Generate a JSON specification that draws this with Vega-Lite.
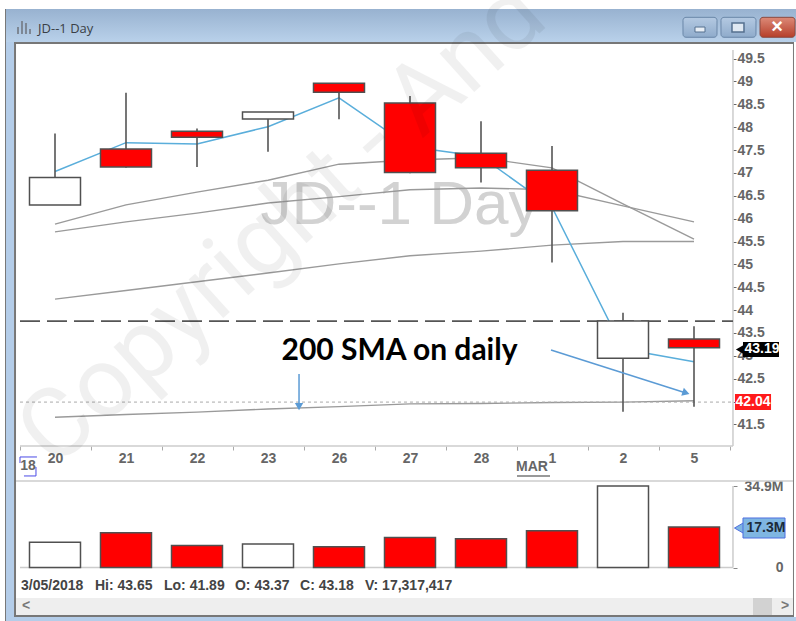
{"$schema":"https://vega.github.io/schema/vega-lite/v6.json","width":796,"height":621,"padding":0,"autosize":{"type":"none"},"background":"#ffffff","config":{"view":{"stroke":null},"font":"Liberation Sans"},
"encoding":{"x":{"field":"x","type":"quantitative","title":null,"scale":{"domain":[-0.7746,10.4366],"nice":false,"zero":false,"padding":0},"axis":{"orient":"bottom","offset":-175,"domain":false,"grid":false,"title":null,"values":[0,1,2,3,4,5,6,7,8,9,-0.493,0.507,1.507,2.507,3.507,4.507,5.507,6.507,7.507,8.507,9.507],"labelExpr":"datum.value % 1 === 0 ? ['20','21','22','23','26','27','28','1','2','5'][datum.value] : ''","tickOpacity":{"condition":{"test":"datum.value % 1 === 0","value":0},"value":1},"tickSize":4,"tickColor":"#aaaaaa","labelFont":"Liberation Sans","labelFontSize":14,"labelFontWeight":"bold","labelColor":"#666666","labelPadding":1,"labelOverlap":false,"labelFlush":false,"labelBound":false}}},
"resolve":{"scale":{"y":"independent"},"axis":{"y":"independent"}},
"layer":[
{"encoding":{"y":{"field":"y","type":"quantitative","title":null,"scale":{"domain":[37.2049,50.7787],"nice":false,"zero":false},"axis":{"orient":"right","offset":-63,"domain":false,"grid":false,"title":null,"values":[41.5,42,42.5,43,43.5,44,44.5,45,45.5,46,46.5,47,47.5,48,48.5,49,49.5],"labelExpr":"datum.value === 42 ? '' : format(datum.value, '.1~f')","tickSize":3,"tickColor":"#666666","labelPadding":1,"labelFont":"Liberation Sans","labelFontSize":14,"labelFontWeight":"bold","labelColor":"#666666","labelOverlap":false,"labelFlush":false,"labelBound":false}}},
"layer":[
{"data":{"values":[{"part":"titlebar","x":-0.69,"x2":10.437,"y":50.582,"y2":49.861}]},"mark":{"type":"rect","color":{"x1":0,"y1":0,"x2":0,"y2":1,"gradient":"linear","stops":[{"offset":0,"color":"#98b2d0"},{"offset":1,"color":"#b9d1ea"}]}},"encoding":{"x2":{"field":"x2"},"y2":{"field":"y2"}}},
{"data":{"values":[{"part":"left","x":-0.69,"x2":-0.577,"y":49.861,"y2":37.205},{"part":"bottom","x":-0.69,"x2":10.437,"y":37.293,"y2":37.205}]},"mark":{"type":"rect","color":"#b4cde9"},"encoding":{"x2":{"field":"x2"},"y2":{"field":"y2"}}},
{"data":{"values":[{"part":"outer left","x":-0.704,"x2":-0.69,"y":50.582,"y2":37.205},{"part":"client top","x":-0.577,"x2":10.408,"y":49.861,"y2":49.817},{"part":"client left","x":-0.577,"x2":-0.549,"y":49.861,"y2":37.293},{"part":"client bottom","x":-0.577,"x2":10.408,"y":37.336,"y2":37.293},{"part":"client right","x":10.394,"x2":10.408,"y":49.861,"y2":37.293}]},"mark":{"type":"rect","color":"#777777"},"encoding":{"x2":{"field":"x2"},"y2":{"field":"y2"}}},
{"data":{"values":[{"part":"scrollbar","x":-0.549,"x2":10.394,"y":37.708,"y2":37.336}]},"mark":{"type":"rect","color":"#eeeeee"},"encoding":{"x2":{"field":"x2"},"y2":{"field":"y2"}}},
{"data":{"values":[{"part":"thumb","x":9.831,"x2":10.099,"y":37.708,"y2":37.336}]},"mark":{"type":"rect","color":"#d2d2d2"},"encoding":{"x2":{"field":"x2"},"y2":{"field":"y2"}}},
{"data":{"values":[{"part":"minimize","x":8.845,"x2":9.324,"y":50.4,"y2":49.964},{"part":"restore","x":9.38,"x2":9.873,"y":50.4,"y2":49.964}]},"mark":{"type":"rect","cornerRadius":3,"stroke":"#6a87a8","strokeWidth":1,"color":{"x1":0,"y1":0,"x2":0,"y2":1,"gradient":"linear","stops":[{"offset":0,"color":"#b4c9e2"},{"offset":1,"color":"#8fabcb"}]}},"encoding":{"x2":{"field":"x2"},"y2":{"field":"y2"}}},
{"data":{"values":[{"part":"close","x":9.93,"x2":10.423,"y":50.4,"y2":49.964}]},"mark":{"type":"rect","cornerRadius":3,"stroke":"#8a4a40","strokeWidth":1,"color":{"x1":0,"y1":0,"x2":0,"y2":1,"gradient":"linear","stops":[{"offset":0,"color":"#dc8a78"},{"offset":1,"color":"#b63f2a"}]}},"encoding":{"x2":{"field":"x2"},"y2":{"field":"y2"}}},
{"data":{"values":[{"part":"minimize glyph","x":9.014,"x2":9.155,"y":50.188,"y2":50.079}]},"mark":{"type":"rect","color":"#e8eef5","stroke":"#55708f","strokeWidth":1},"encoding":{"x2":{"field":"x2"},"y2":{"field":"y2"}}},
{"data":{"values":[{"part":"restore glyph","x":9.535,"x2":9.704,"y":50.276,"y2":50.079}]},"mark":{"type":"rect","color":"#dfe8f2","stroke":"#55708f","strokeWidth":1.5},"encoding":{"x2":{"field":"x2"},"y2":{"field":"y2"}}},
{"data":{"values":[{"part":"icon","x":-0.535,"x2":-0.507,"y":50.188,"y2":50.036},{"part":"icon","x":-0.479,"x2":-0.451,"y":50.32,"y2":50.036},{"part":"icon","x":-0.423,"x2":-0.394,"y":50.276,"y2":50.036},{"part":"icon","x":-0.366,"x2":-0.338,"y":50.145,"y2":50.036}]},"mark":{"type":"rect","color":"#7d8794"},"encoding":{"x2":{"field":"x2"},"y2":{"field":"y2"}}},
{"data":{"values":[{"label":"JD--1 Day","x":-0.239,"y":50.145}]},"mark":{"type":"text","align":"left","baseline":"middle","font":"Open Sans","fontSize":13,"color":"#3a3f46"},"encoding":{"text":{"field":"label"}}},
{"data":{"values":[{"label":"×","x":10.169,"y":50.188}]},"mark":{"type":"text","align":"center","baseline":"middle","font":"Liberation Sans","fontWeight":"bold","fontSize":20,"color":"#ffffff"},"encoding":{"text":{"field":"label"}}},
{"data":{"values":[{"label":"<","x":-0.408,"y":37.53},{"label":">","x":10.282,"y":37.53}]},"mark":{"type":"text","align":"center","baseline":"middle","font":"Liberation Sans","fontWeight":"bold","fontSize":14,"color":"#777777"},"encoding":{"text":{"field":"label"}}},
{"data":{"values":[{"label":"JD--1 Day","x":4.859,"y":46.298}]},"mark":{"type":"text","align":"center","baseline":"middle","font":"Liberation Sans","fontSize":62,"color":"#d2d2d2"},"encoding":{"text":{"field":"label"}}},
{"data":{"values":[{"part":"price frame","x":-0.493,"x2":9.549,"y":41.03},{"part":"separator","x":-0.549,"x2":10.394,"y":40.265}]},"mark":{"type":"rule","color":"#cccccc","strokeWidth":1.5},"encoding":{"x2":{"field":"x2"}}},
{"data":{"values":[{"part":"price side","x":9.549,"y":49.686,"y2":41.03}]},"mark":{"type":"rule","color":"#cccccc","strokeWidth":1.5},"encoding":{"y2":{"field":"y2"}}},
{"data":{"values":[{"s":"MA1","x":0,"y":45.88},{"s":"MA1","x":1,"y":46.30},{"s":"MA1","x":2,"y":46.58},{"s":"MA1","x":3,"y":46.84},{"s":"MA1","x":4,"y":47.19},{"s":"MA1","x":5,"y":47.28},{"s":"MA1","x":6,"y":47.33},{"s":"MA1","x":7,"y":47.11},{"s":"MA1","x":8,"y":46.32},{"s":"MA1","x":9,"y":45.55},{"s":"MA2","x":0,"y":45.71},{"s":"MA2","x":1,"y":45.93},{"s":"MA2","x":2,"y":46.12},{"s":"MA2","x":3,"y":46.34},{"s":"MA2","x":4,"y":46.48},{"s":"MA2","x":5,"y":46.63},{"s":"MA2","x":6,"y":46.67},{"s":"MA2","x":7,"y":46.63},{"s":"MA2","x":8,"y":46.28},{"s":"MA2","x":9,"y":45.93},{"s":"MA3","x":0,"y":44.24},{"s":"MA3","x":1,"y":44.43},{"s":"MA3","x":2,"y":44.62},{"s":"MA3","x":3,"y":44.81},{"s":"MA3","x":4,"y":45.01},{"s":"MA3","x":5,"y":45.19},{"s":"MA3","x":6,"y":45.29},{"s":"MA3","x":7,"y":45.42},{"s":"MA3","x":8,"y":45.50},{"s":"MA3","x":9,"y":45.50},{"s":"SMA200","x":0,"y":41.66},{"s":"SMA200","x":1,"y":41.72},{"s":"SMA200","x":2,"y":41.77},{"s":"SMA200","x":3,"y":41.84},{"s":"SMA200","x":4,"y":41.89},{"s":"SMA200","x":5,"y":41.95},{"s":"SMA200","x":6,"y":41.96},{"s":"SMA200","x":7,"y":41.98},{"s":"SMA200","x":8,"y":41.99},{"s":"SMA200","x":9,"y":42.02}]},"mark":{"type":"line","color":"#9a9a9a","strokeWidth":1.4},"encoding":{"detail":{"field":"s"}}},
{"data":{"values":[{"x":0,"y":47.03},{"x":1,"y":47.66},{"x":2,"y":47.63},{"x":3,"y":48.01},{"x":4,"y":48.64},{"x":5,"y":47.57},{"x":6,"y":47.36},{"x":7,"y":46.25},{"x":8,"y":43.15},{"x":9,"y":42.87}]},"mark":{"type":"line","color":"#5aaedb","strokeWidth":1.5}},
{"data":{"values":[{"part":"dashed level","x":-0.493,"x2":9.549,"y":43.76}]},"mark":{"type":"rule","color":"#555555","strokeWidth":1.6,"strokeDash":[20,7]},"encoding":{"x2":{"field":"x2"}}},
{"data":{"values":[{"part":"dotted level","x":-0.493,"x2":9.549,"y":41.99}]},"mark":{"type":"rule","color":"#aaaaaa","strokeWidth":1,"strokeDash":[3,3]},"encoding":{"x2":{"field":"x2"}}},
{"data":{"values":[{"x":0,"date":"2018-02-20","y":47.86,"y2":46.30},{"x":1,"date":"2018-02-21","y":48.75,"y2":47.11},{"x":2,"date":"2018-02-22","y":47.97,"y2":47.13},{"x":3,"date":"2018-02-23","y":48.33,"y2":47.46},{"x":4,"date":"2018-02-26","y":48.96,"y2":48.17},{"x":5,"date":"2018-02-27","y":48.68,"y2":46.99},{"x":6,"date":"2018-02-28","y":48.13,"y2":46.79},{"x":7,"date":"2018-03-01","y":47.59,"y2":45.04},{"x":8,"date":"2018-03-02","y":43.94,"y2":41.78},{"x":9,"date":"2018-03-05","y":43.65,"y2":41.89}]},"mark":{"type":"rule","color":"#555555","strokeWidth":1.6},"encoding":{"y2":{"field":"y2"}}},
{"data":{"values":[{"x":0,"date":"2018-02-20","y":46.30,"y2":46.90,"body":"hollow"},{"x":1,"date":"2018-02-21","y":47.52,"y2":47.13,"body":"red"},{"x":2,"date":"2018-02-22","y":47.91,"y2":47.78,"body":"red"},{"x":3,"date":"2018-02-23","y":48.18,"y2":48.33,"body":"hollow"},{"x":4,"date":"2018-02-26","y":48.96,"y2":48.76,"body":"red"},{"x":5,"date":"2018-02-27","y":48.53,"y2":47.01,"body":"red"},{"x":6,"date":"2018-02-28","y":47.43,"y2":47.11,"body":"red"},{"x":7,"date":"2018-03-01","y":47.06,"y2":46.17,"body":"red"},{"x":8,"date":"2018-03-02","y":42.95,"y2":43.76,"body":"hollow"},{"x":9,"date":"2018-03-05","y":43.37,"y2":43.18,"body":"red"}]},"mark":{"type":"bar","size":51,"orient":"vertical","stroke":"#505050","strokeWidth":1.5},"encoding":{"y2":{"field":"y2"},"color":{"field":"body","type":"nominal","scale":{"domain":["hollow","red"],"range":["#ffffff","#ff0000"]},"legend":null}}},
{"data":{"values":[{"label":"200 SMA on daily","x":4.852,"y":43.107}]},"mark":{"type":"text","align":"center","baseline":"middle","font":"Lato","fontWeight":"bold","fontSize":30,"color":"#000000"},"encoding":{"text":{"field":"label"}}},
{"data":{"values":[{"a":"to 200 SMA","x":3.437,"y":42.604},{"a":"to 200 SMA","x":3.437,"y":41.85},{"a":"to candle","x":6.986,"y":43.128},{"a":"to candle","x":8.887,"y":42.189}]},"mark":{"type":"line","color":"#5b9bd5","strokeWidth":1.5},"encoding":{"detail":{"field":"a"}}},
{"data":{"values":[{"x":3.437,"y":41.89}]},"mark":{"type":"point","shape":"triangle-down","filled":true,"size":70,"opacity":1,"color":"#5b9bd5"}},
{"data":{"values":[{"x":8.887,"y":42.19}]},"mark":{"type":"point","shape":"triangle-up","angle":108,"filled":true,"size":70,"opacity":1,"color":"#5b9bd5"}},
{"data":{"values":[{"label":"18","x":-0.38,"y":40.593},{"label":"MAR","x":6.718,"y":40.571}]},"mark":{"type":"text","align":"center","baseline":"middle","font":"Liberation Sans","fontWeight":"bold","fontSize":14,"color":"#666666"},"encoding":{"text":{"field":"label"}}},
{"data":{"values":[{"part":"MAR underline","x":6.507,"x2":6.972,"y":40.375}]},"mark":{"type":"rule","color":"#777777","strokeWidth":1.5},"encoding":{"x2":{"field":"x2"}}},
{"data":{"values":[{"b":"top","o":1,"x":-0.493,"y":40.658},{"b":"top","o":2,"x":-0.493,"y":40.79},{"b":"top","o":3,"x":-0.254,"y":40.79},{"b":"bottom","o":1,"x":-0.437,"y":40.375},{"b":"bottom","o":2,"x":-0.268,"y":40.375},{"b":"bottom","o":3,"x":-0.268,"y":40.571}]},"mark":{"type":"line","color":"#4a4ae6","strokeWidth":1},"encoding":{"detail":{"field":"b"},"order":{"field":"o"}}},
{"data":{"values":[{"label":"3/05/2018","x":-0.479,"y":37.97},{"label":"Hi: 43.65","x":0.563,"y":37.97},{"label":"Lo: 41.89","x":1.535,"y":37.97},{"label":"O: 43.37","x":2.535,"y":37.97},{"label":"C: 43.18","x":3.451,"y":37.97},{"label":"V: 17,317,417","x":4.366,"y":37.97}]},"mark":{"type":"text","align":"left","baseline":"middle","font":"Liberation Sans","fontWeight":"bold","fontSize":14,"color":"#444444"},"encoding":{"text":{"field":"label"}}},
{"data":{"values":[{"tag":"close","x":9.69,"x2":10.197,"y":43.303,"y2":42.975}]},"mark":{"type":"rect","color":"#000000"},"encoding":{"x2":{"field":"x2"},"y2":{"field":"y2"}}},
{"data":{"values":[{"x":9.648,"y":43.14}]},"mark":{"type":"point","shape":"triangle-left","filled":true,"size":90,"opacity":1,"color":"#000000"}},
{"data":{"values":[{"tag":"sma","x":9.577,"x2":10.085,"y":42.167,"y2":41.817}]},"mark":{"type":"rect","color":"#ff1a1a"},"encoding":{"x2":{"field":"x2"},"y2":{"field":"y2"}}},
{"data":{"values":[{"label":"43.19","x":9.958,"y":43.14,"c":"close"},{"label":"42.04","x":9.831,"y":41.99,"c":"sma"}]},"mark":{"type":"text","align":"center","baseline":"middle","font":"Liberation Sans","fontWeight":"bold","fontSize":14,"color":"#ffffff"},"encoding":{"text":{"field":"label"}}},
{"data":{"values":[{"label":"Copyright - And","x":-0.01,"y":40.505}]},"mark":{"type":"text","align":"left","baseline":"alphabetic","angle":318,"font":"Roboto","fontSize":98,"color":"#000000","opacity":0.055},"encoding":{"text":{"field":"label"}}}
]},
{"encoding":{"y":{"field":"y","type":"quantitative","title":null,"scale":{"domain":[-22912000,243040000],"nice":false,"zero":false},"axis":{"orient":"right","offset":-63,"domain":false,"grid":false,"title":null,"values":[0,34900000],"labelExpr":"datum.value === 0 ? '0' : '34.9M'","labelAlign":"right","labelPadding":46,"tickSize":4,"tickColor":"#888888","labelFont":"Liberation Sans","labelFontSize":14,"labelFontWeight":"bold","labelColor":"#666666","labelOverlap":false,"labelFlush":false,"labelBound":false}}},
"layer":[
{"data":{"values":[{"part":"volume base","x":-0.493,"x2":9.549,"y":0}]},"mark":{"type":"rule","color":"#cccccc","strokeWidth":1.5},"encoding":{"x2":{"field":"x2"}}},
{"data":{"values":[{"part":"volume side","x":9.549,"y":34900000,"y2":0}]},"mark":{"type":"rule","color":"#cccccc","strokeWidth":1.5},"encoding":{"y2":{"field":"y2"}}},
{"data":{"values":[{"x":0,"y":10850000,"body":"hollow"},{"x":1,"y":14850000,"body":"red"},{"x":2,"y":9400000,"body":"red"},{"x":3,"y":10100000,"body":"hollow"},{"x":4,"y":8850000,"body":"red"},{"x":5,"y":12850000,"body":"red"},{"x":6,"y":12300000,"body":"red"},{"x":7,"y":15700000,"body":"red"},{"x":8,"y":34900000,"body":"hollow"},{"x":9,"y":17317417,"body":"red"}]},"mark":{"type":"bar","size":51,"orient":"vertical","stroke":"#505050","strokeWidth":1.5},"encoding":{"color":{"field":"body","type":"nominal","legend":null}}},
{"data":{"values":[{"x":9.634,"y":16900000}]},"mark":{"type":"point","shape":"triangle-left","filled":true,"size":110,"opacity":1,"color":"#7fb6e2","stroke":"#4f6fe0","strokeWidth":1}},
{"data":{"values":[{"tag":"volume","x":9.69,"x2":10.282,"y":21200000,"y2":12630000}]},"mark":{"type":"rect","color":"#7fb6e2","stroke":"#4f6fe0","strokeWidth":1},"encoding":{"x2":{"field":"x2"},"y2":{"field":"y2"}}},
{"data":{"values":[{"label":"17.3M","x":10.014,"y":16900000}]},"mark":{"type":"text","align":"center","baseline":"middle","font":"Liberation Sans","fontWeight":"bold","fontSize":14,"color":"#1c2b3a"},"encoding":{"text":{"field":"label"}}}
]}
]}
